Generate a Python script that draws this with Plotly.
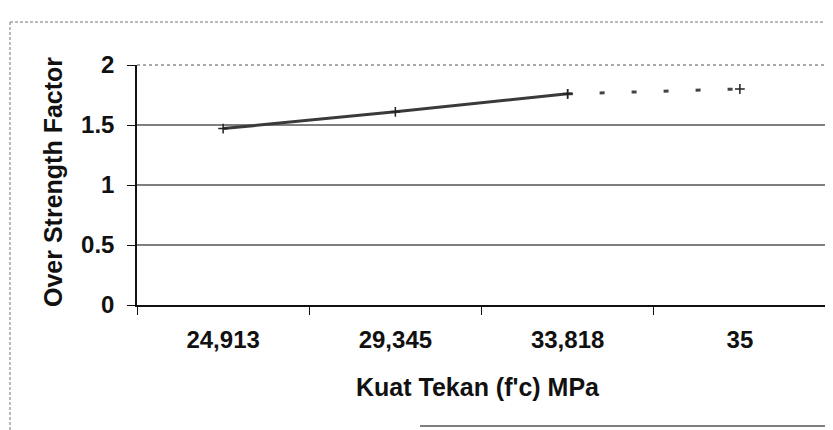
import plotly.graph_objects as go

# Data
categories = ["24,913", "29,345", "33,818", "35"]
osf_values = [1.47, 1.61, 1.76, 1.80]
y_tick_vals = [0, 0.5, 1, 1.5, 2]
y_tick_text = ["0", "0.5", "1", "1.5", "2"]
grid_vals = [0.5, 1, 1.5]

FONT = "Arial, Liberation Sans, sans-serif"

# page body has an 8px margin, so the figure is drawn at (8, 8)
W, H = 825, 422
L, R, T, B = 129, 7, 57, 125
PW, PH = W - L - R, H - T - B


def px(x):  # page x -> paper
    return (x - 8 - L) / PW


def py(y):  # page y -> paper
    return (H - B - (y - 8)) / PH


fig = go.Figure()

fig.add_trace(go.Scatter(
    x=categories[:3], y=osf_values[:3], mode="lines+markers",
    line=dict(color="#3a3a3a", width=3),
    marker=dict(symbol="cross-thin", size=7, line=dict(color="#222", width=1.5)),
    showlegend=False, hoverinfo="x+y",
))
fig.add_trace(go.Scatter(
    x=categories[2:], y=osf_values[2:], mode="lines+markers",
    line=dict(color="#444", width=3, dash="5px,27px"),
    marker=dict(symbol="cross-thin", size=7, line=dict(color="#222", width=1.5)),
    showlegend=False, hoverinfo="x+y",
))

for v in grid_vals:
    fig.add_hline(y=v, line=dict(color="black", width=1.2), layer="below")

extra_shapes = [
    dict(type="line", xref="paper", yref="paper", x0=0, x1=1, y0=1, y1=1,
         line=dict(color="#555", width=1, dash="dot")),
    dict(type="line", xref="paper", yref="paper", x0=1, x1=1, y0=0, y1=1,
         line=dict(color="#555", width=1, dash="dot")),
    dict(type="line", xref="paper", yref="paper",
         x0=px(10), x1=px(10), y0=py(22), y1=py(432),
         line=dict(color="#777", width=1, dash="3px,2px")),
    dict(type="line", xref="paper", yref="paper",
         x0=px(10), x1=px(840), y0=py(22), y1=py(22),
         line=dict(color="#777", width=1, dash="3px,2px")),
    dict(type="line", xref="paper", yref="paper",
         x0=px(420), x1=px(840), y0=py(426), y1=py(426),
         line=dict(color="#555", width=1.5)),
]
for s in extra_shapes:
    fig.add_shape(**s)

fig.update_layout(
    width=W, height=H,
    margin=dict(l=L, r=R, t=T, b=B),
    paper_bgcolor="white", plot_bgcolor="white",
    xaxis=dict(
        type="category", range=[-0.5, 3.5], tickson="boundaries",
        ticks="outside", ticklen=8, tickcolor="#111", tickwidth=1,
        showline=True, linecolor="#111", linewidth=1.5, showgrid=False,
        tickfont=dict(family=FONT, size=24, color="#111", weight="bold"),
        ticklabelstandoff=12, zeroline=False,
    ),
    yaxis=dict(
        range=[0, 2], tickvals=y_tick_vals, ticktext=y_tick_text,
        ticks="outside", ticklen=8, tickcolor="#111", tickwidth=1,
        showline=True, linecolor="#111", linewidth=1.5, showgrid=False,
        zeroline=False,
        tickfont=dict(family=FONT, size=24, color="#111", weight="bold"),
        ticklabelstandoff=8,
    ),
    annotations=[
        dict(text="Over Strength Factor", xref="paper", yref="paper",
             x=px(53), y=py(182), textangle=-90, showarrow=False,
             xanchor="center", yanchor="middle",
             font=dict(family=FONT, size=25, color="#111", weight="bold")),
        dict(text="Kuat Tekan (f'c) MPa", xref="paper", yref="paper",
             x=px(478), y=py(387), showarrow=False,
             xanchor="center", yanchor="middle",
             font=dict(family=FONT, size=25, color="#111", weight="bold")),
    ],
)

fig.write_html("out.html")
